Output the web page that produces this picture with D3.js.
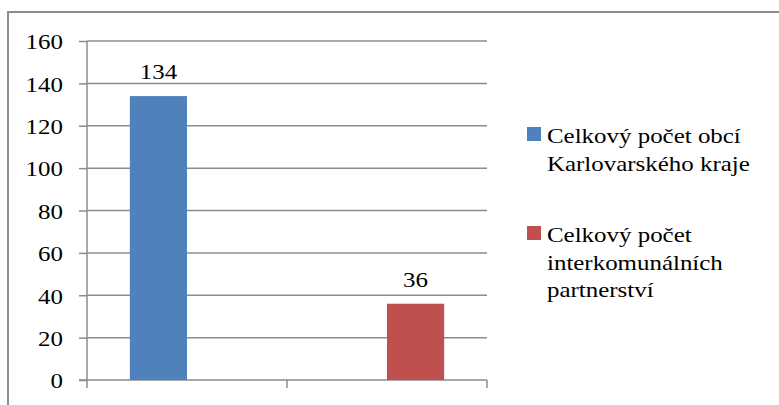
<!DOCTYPE html>
<html>
<head>
<meta charset="utf-8">
<script src="https://cdn.jsdelivr.net/npm/d3@7"></script>
<style>
  html, body { margin: 0; padding: 0; background: #fff; }
  svg { display: block; }
</style>
</head>
<body>
<svg id="chart" width="779" height="405"></svg>
<script>
// ---- data ----
const categories = ["", ""];
const seriesNames = [
  ["Celkový počet obcí", "Karlovarského kraje"],
  ["Celkový počet", "interkomunálních", "partnerství"]
];
const seriesColors = ["#4F81BD", "#C0504D"];
const series1Values = [134, null];
const series2Values = [null, 36];
const yTicks = [0, 20, 40, 60, 80, 100, 120, 140, 160];

// ---- layout ----
const svg = d3.select("#chart");
const plot = { left: 87, right: 487, top: 41, bottom: 380 };
const FS = 21.5, SX = 1.16;
const FONT = "Liberation Serif";
const gridColor = "#8c8c8c";

// outer frame (extends past the picture on right/bottom)
svg.append("rect")
  .attr("x", 8).attr("y", 12).attr("width", 800).attr("height", 500)
  .attr("fill", "#fff").attr("stroke", "#8c8c8c").attr("stroke-width", 2);

const y = d3.scaleLinear().domain([0, 160]).range([plot.bottom, plot.top]);
const x0 = d3.scaleBand().domain(d3.range(categories.length))
  .range([plot.left, plot.right]).paddingInner(0).paddingOuter(0);
const x1 = d3.scaleBand().domain([0, 1]).range([0, x0.bandwidth()])
  .paddingInner(0).paddingOuter(0.75);

// gridlines
svg.append("g").selectAll("line").data(yTicks.filter(t => t > 0)).join("line")
  .attr("x1", plot.left).attr("x2", plot.right)
  .attr("y1", d => y(d)).attr("y2", d => y(d))
  .attr("stroke", gridColor).attr("stroke-width", 1.5);

// y axis
const yAxis = svg.append("g").attr("transform", `translate(${plot.left},0)`)
  .call(d3.axisLeft(y).tickValues(yTicks).tickSize(8).tickFormat(""));
yAxis.select(".domain").attr("stroke", gridColor).attr("stroke-width", 1.5)
  .attr("d", `M0,${plot.top}V${plot.bottom}`);
yAxis.selectAll(".tick line").attr("stroke", gridColor).attr("stroke-width", 1.5);

// y labels
svg.append("g").selectAll("text").data(yTicks).join("text")
  .attr("text-anchor", "end")
  .style("font-family", FONT)
  .style("font-size", FS + "px")
  .attr("fill", "#000")
  .attr("transform", d => `translate(63,${y(d) + 8.3}) scale(${SX},1)`)
  .text(d => d);

// x axis
const xAxis = svg.append("g").attr("transform", `translate(0,${plot.bottom})`)
  .call(d3.axisBottom(x0).tickValues([]).tickSizeOuter(0));
xAxis.select(".domain").attr("stroke", gridColor).attr("stroke-width", 1.5)
  .attr("d", `M${plot.left - 8},0H${plot.right}`);
const boundaries = d3.range(categories.length + 1).map(i => plot.left + i * x0.step());
xAxis.selectAll(".bt").data(boundaries).join("line").attr("class", "bt")
  .attr("x1", d => d).attr("x2", d => d).attr("y1", 0).attr("y2", 8)
  .attr("stroke", gridColor).attr("stroke-width", 1.5);

// bars
const allSeries = [series1Values, series2Values];
allSeries.forEach((vals, si) => {
  const data = vals.map((v, ci) => ({ v, ci })).filter(d => d.v != null);
  const g = svg.append("g");
  g.selectAll("rect").data(data).join("rect")
    .attr("x", d => x0(d.ci) + x1(si))
    .attr("width", x1.bandwidth())
    .attr("y", d => y(d.v))
    .attr("height", d => y(0) - y(d.v))
    .attr("fill", seriesColors[si]);
  g.selectAll("text").data(data).join("text")
    .attr("text-anchor", "middle")
    .style("font-family", FONT)
    .style("font-size", FS + "px")
    .attr("fill", "#000")
    .attr("transform", d => `translate(${x0(d.ci) + x1(si) + x1.bandwidth() / 2},${y(d.v) - 17}) scale(${SX},1)`)
    .text(d => d.v);
});

// legend
const legendY = [143, 242];
const lineH = 27.5;
seriesNames.forEach((lines, si) => {
  const g = svg.append("g");
  g.append("rect").attr("x", 527).attr("y", legendY[si] - 16)
    .attr("width", 14).attr("height", 14).attr("fill", seriesColors[si]);
  lines.forEach((t, li) => {
    g.append("text")
      .style("font-family", FONT)
      .style("font-size", FS + "px")
      .attr("fill", "#000")
      .attr("transform", `translate(547,${legendY[si] + li * lineH}) scale(${SX},1)`)
      .text(t);
  });
});
</script>
</body>
</html>
